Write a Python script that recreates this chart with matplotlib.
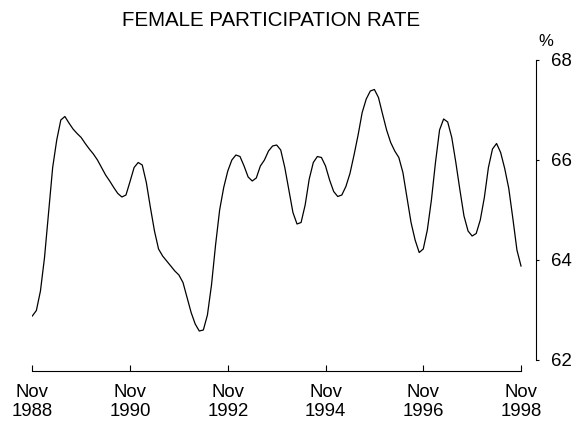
import matplotlib
matplotlib.use("Agg")
import matplotlib.pyplot as plt
import numpy as np

plt.rcParams['font.family'] = ['Liberation Sans', 'DejaVu Sans']

title = "FEMALE PARTICIPATION RATE"
unit_label = "%"
# Monthly values, Nov 1988 .. Nov 1998
rate = [
    62.88, 62.99, 63.38, 64.05, 64.95, 65.85, 66.40, 66.80, 66.87, 66.74,
    66.62, 66.53, 66.45, 66.33, 66.22, 66.12, 66.00, 65.85, 65.70, 65.58,
    65.45, 65.33, 65.26, 65.30, 65.57, 65.85, 65.95, 65.90, 65.55, 65.05,
    64.58, 64.22, 64.08, 63.98, 63.88, 63.78, 63.70, 63.55, 63.25, 62.95,
    62.72, 62.58, 62.60, 62.90, 63.50, 64.30, 65.00, 65.45, 65.78, 66.00,
    66.10, 66.07, 65.88, 65.66, 65.58, 65.64, 65.88, 66.00, 66.18, 66.28,
    66.30, 66.20, 65.85, 65.40, 64.95, 64.72, 64.75, 65.10, 65.62, 65.95,
    66.07, 66.05, 65.88, 65.60, 65.37, 65.27, 65.30, 65.47, 65.73, 66.10,
    66.50, 66.95, 67.22, 67.38, 67.41, 67.25, 66.92, 66.60, 66.35, 66.18,
    66.05, 65.75, 65.25, 64.75, 64.40, 64.15, 64.22, 64.60, 65.20, 65.95,
    66.60, 66.82, 66.76, 66.45, 65.95, 65.40, 64.88, 64.58, 64.48, 64.53,
    64.80, 65.25, 65.85, 66.22, 66.33, 66.15, 65.83, 65.43, 64.83, 64.20,
    63.88,
]
x_tick_pos = [0, 24, 48, 72, 96, 120]
x_tick_labels = ["Nov\n1988", "Nov\n1990", "Nov\n1992", "Nov\n1994", "Nov\n1996", "Nov\n1998"]
y_ticks = [62, 64, 66, 68]

W, H = 586, 421
x0, x_last = 32.3, 521.0       # pixel of first / last month
x_spine = 536.0                # pixel of the right (value) axis
y_top, y_62, y_spine = 60.0, 360.0, 370.7
px_per_month = (x_last - x0) / 120
px_per_unit = (y_62 - y_top) / 6

fig = plt.figure(figsize=(W/100, H/100), dpi=100)
ax = fig.add_axes([x0/W, (H-y_spine)/H, (x_spine-x0)/W, (y_spine-y_top)/H])

months = np.arange(len(rate))
ax.plot(months, rate, color='black', linewidth=0.9)

ax.set_xlim(0, 120 + (x_spine - x_last) / px_per_month)
ax.set_ylim(62 - (y_spine - y_62) / px_per_unit, 68)

for s in ['top', 'left']:
    ax.spines[s].set_visible(False)
ax.yaxis.tick_right()
ax.spines['right'].set_bounds(62, 68)
ax.spines['bottom'].set_bounds(0, 120)
ax.spines['right'].set_linewidth(0.8)
ax.spines['bottom'].set_linewidth(0.8)

ax.set_yticks(y_ticks)
ax.set_yticklabels([str(v) for v in y_ticks])
ax.tick_params(axis='y', direction='out', length=2.5, width=0.8, pad=8.5, labelsize=13.4)

ax.set_xticks(x_tick_pos)
ax.set_xticklabels(x_tick_labels, linespacing=1.15)
ax.tick_params(axis='x', direction='in', length=4, width=0.8, pad=9.5, labelsize=13.4)

fig.text(271/W, 1 - 20/H, title, ha='center', va='center', fontsize=14.8)
fig.text(546/W, 1 - 41/H, unit_label, ha='center', va='center', fontsize=12)

fig.savefig("out.png", dpi=100)
